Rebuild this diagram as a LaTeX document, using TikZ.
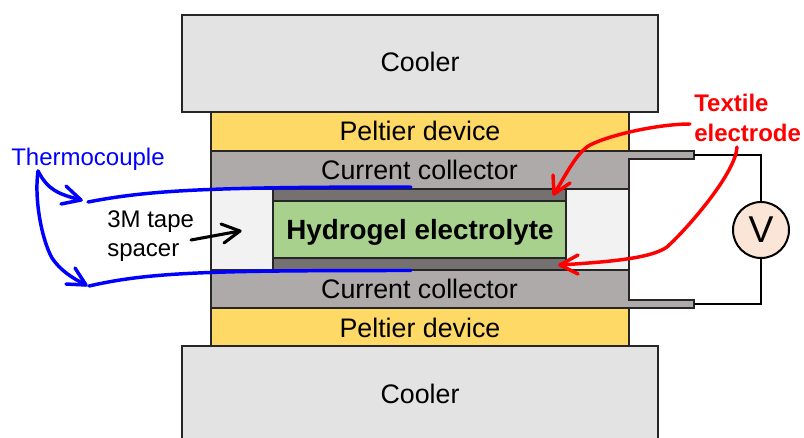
\documentclass[tikz,border=0pt]{standalone}
\usepackage{fontspec}
\setmainfont{Liberation Sans}
\definecolor{coolc}{HTML}{E3E3E3}
\definecolor{peltc}{HTML}{FFD966}
\definecolor{collc}{HTML}{AEAAAA}
\definecolor{darkc}{HTML}{767171}
\definecolor{gelc}{HTML}{A9D18E}
\definecolor{spacc}{HTML}{F2F2F2}
\definecolor{voltc}{HTML}{FBE5D6}
\definecolor{blu}{HTML}{0000FF}
\definecolor{rd}{HTML}{FF0000}
\tikzset{
  x=0.75pt,y=-0.75pt,
  blockline/.style={draw=black!85,line width=1.35pt},
  lbl/.style={font=\fontsize{20.1}{23}\selectfont,inner sep=0pt,text=black},
  wire/.style={draw=black,line width=1.5pt},
  tc/.style={draw=blu,line width=2.6pt,line cap=round,line join=round},
  re/.style={draw=rd,line width=2.6pt,line cap=round,line join=round},
  ba/.style={draw=black,line width=2.3pt,line cap=round,line join=round},
}
\begin{document}
\begin{tikzpicture}
\useasboundingbox (0,0) rectangle (804,437);
\begin{scope}
\clip (0,0) rectangle (804,437);
% blocks
\draw[blockline,fill=coolc] (182,15) rectangle (658,112);
\draw[blockline,fill=coolc] (182,346) rectangle (658,450);
\draw[blockline,fill=peltc] (211,112) rectangle (629,151);
\draw[blockline,fill=peltc] (211,308) rectangle (629,346);
\draw[blockline,fill=spacc] (211,189) rectangle (629,270);
\draw[blockline,fill=darkc] (273,189) rectangle (566,270);
\draw[blockline,fill=gelc] (273,201) rectangle (566,258);
% collectors with tabs
\draw[blockline,fill=collc] (211,151) -- (694,151) -- (694,159) -- (629,159) -- (629,189) -- (211,189) -- cycle;
\draw[blockline,fill=collc] (211,270) -- (629,270) -- (629,300) -- (694,300) -- (694,308) -- (211,308) -- cycle;
\end{scope}
% labels
\node[lbl] (cool1) at (420,62) {Cooler};
\node[lbl] (cool2) at (420,394) {Cooler};
\node[lbl] (pelt1) at (420,131) {Peltier device};
\node[lbl] (pelt2) at (420,328) {Peltier device};
\node[lbl] (coll1) at (419.5,170) {Current collector};
\node[lbl] (coll2) at (419.5,288.5) {Current collector};
\node[lbl,font=\fontsize{20.85}{23}\selectfont\bfseries] (gel) at (420,232) {Hydrogel electrolyte};
\node[lbl,font=\fontsize{18}{21.75}\selectfont,align=left,anchor=west] (tape) at (107,236) {3M tape\\spacer};
\node[lbl,text=blu,font=\fontsize{18}{20}\selectfont,anchor=west] (thermo) at (11,159) {Thermocouple};
\node[lbl,text=rd,font=\fontsize{18}{22.5}\selectfont\bfseries,align=left,anchor=west] (textile) at (694,118) {Textile\\electrode};
% voltmeter
\node[circle,draw=black,line width=1.5pt,fill=voltc,minimum size=56pt*0.75,inner sep=0pt,font=\fontsize{28}{30}\selectfont] (volt) at (761,230) {V};
\coordinate (tabT) at (694,155);
\coordinate (tabB) at (694,304);
\draw[wire] (tabT) -| (volt.north);
\draw[wire] (tabB) -| (volt.south);
% thermocouple wires
\coordinate (w1) at (88,202); \coordinate (w1e) at (411,187);
\coordinate (w2) at (89,286); \coordinate (w2e) at (411,270.5);
\draw[tc] (w1) .. controls (150,190) and (210,187) .. (w1e);
\draw[tc] (w2) .. controls (150,272) and (210,270.5) .. (w2e);
% thermocouple arrows
\coordinate (tcs) at (38,171);
\coordinate (t1) at (81,200);
\coordinate (t2) at (86,285);
\draw[tc] (tcs) .. controls (48,190) and (58,194) .. (t1);
\draw[tc] (66,186) -- (t1) -- (61,204);
\draw[tc] (tcs) .. controls (34,200) and (42,240) .. (52,258) .. controls (60,270) and (72,278) .. (t2);
\draw[tc] (75,268) -- (t2) -- (66,284);
% tape arrow
\coordinate (b1) at (191,240); \coordinate (b2) at (240,231);
\draw[ba] (b1) -- (b2);
\draw[ba] (221,224) -- (b2) -- (224,243);
% textile arrows
\coordinate (r1s) at (690,124); \coordinate (r1e) at (554,194);
\draw[re] (r1s) .. controls (660,124) and (612,134) .. (590,145) .. controls (576,153) and (566,175) .. (r1e);
\draw[re] (553,175) -- (r1e) -- (570,183);
\coordinate (r2s) at (737,147); \coordinate (r2e) at (560,265);
\draw[re] (r2s) .. controls (736,172) and (690,226) .. (667,247) .. controls (650,259) and (605,262) .. (r2e);
\draw[re] (578,255) -- (r2e) -- (578,274);
\end{tikzpicture}
\end{document}
